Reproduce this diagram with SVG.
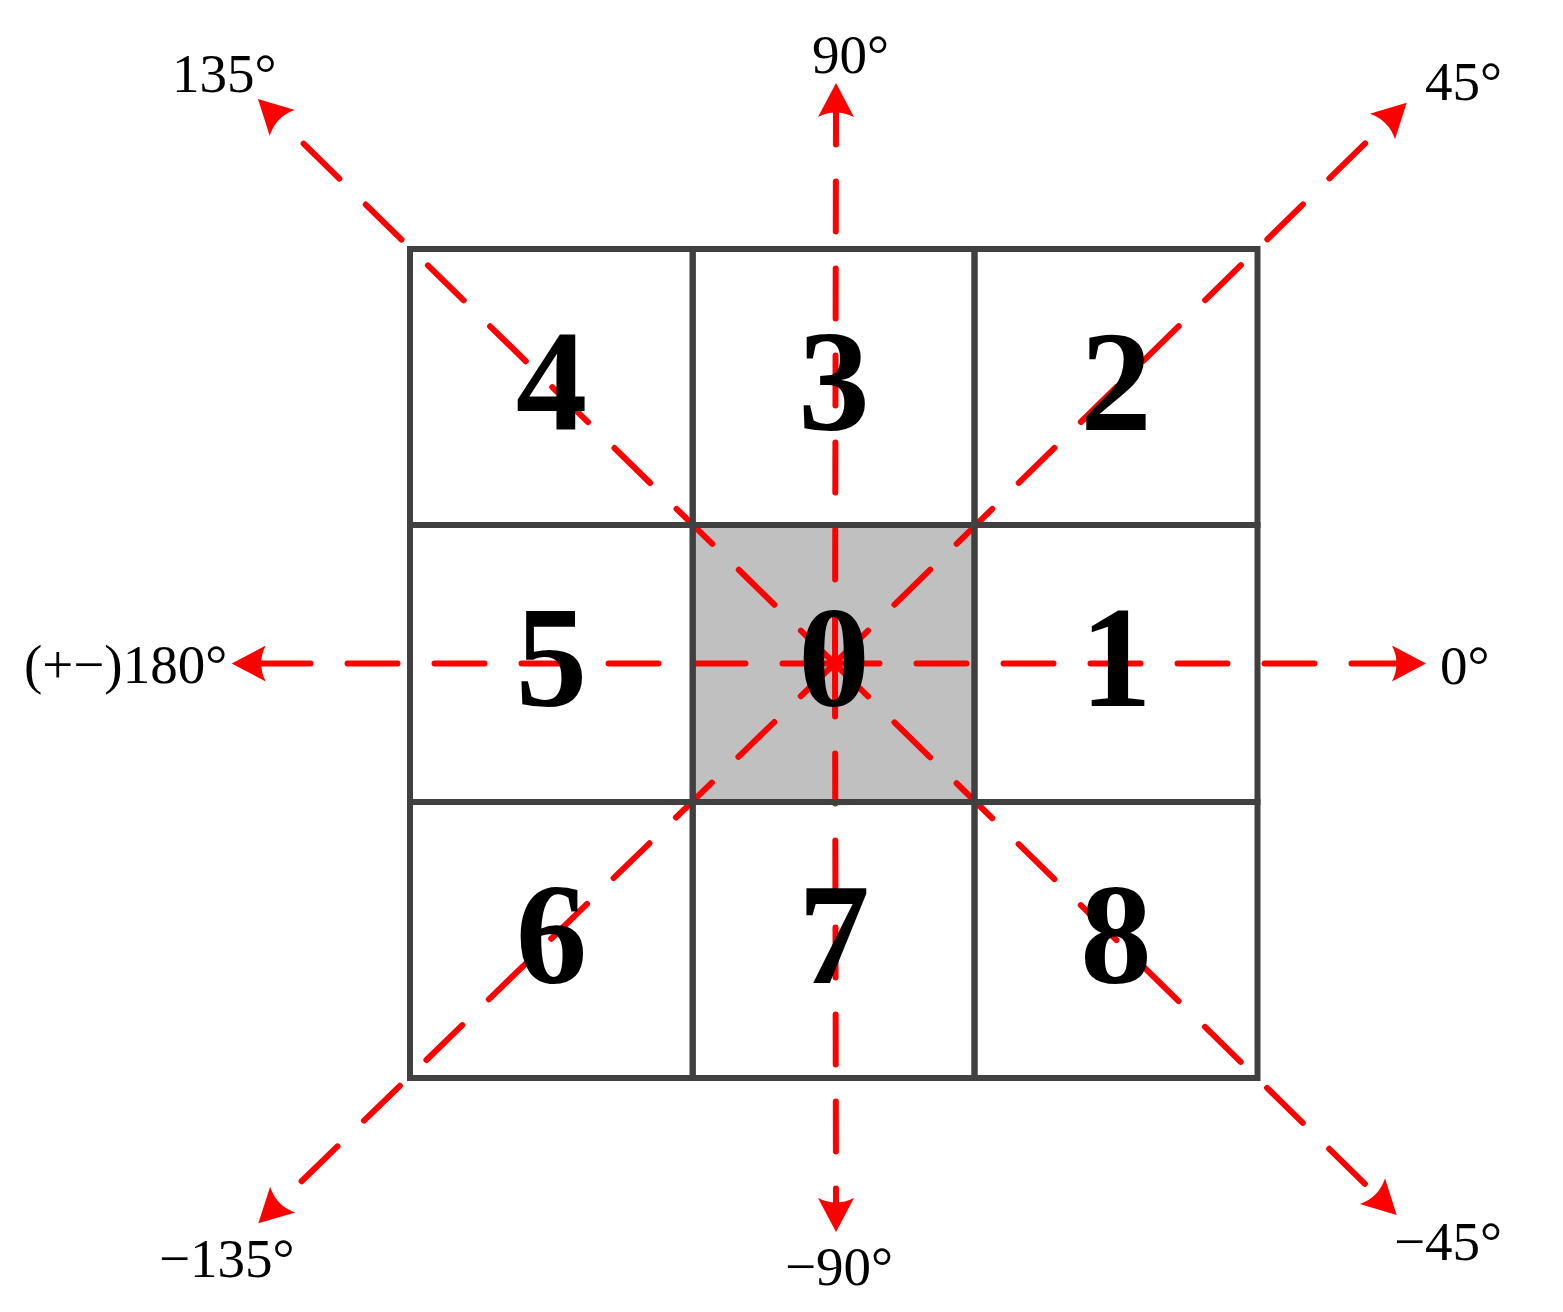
<svg xmlns="http://www.w3.org/2000/svg" width="1563" height="1312" viewBox="0 0 1563 1312">
<style>
.cell{fill:none;stroke:#404040;stroke-width:6}
.digit{font-family:"Liberation Serif","Times New Roman",serif;font-weight:bold;font-size:143px;fill:#000;text-anchor:middle}
.lbl{font-family:"Liberation Serif","Times New Roman",serif;font-size:55px;fill:#000}
.ray{stroke:#ff0000;stroke-width:6;stroke-linecap:round;fill:none;stroke-dasharray:50 37;marker-end:url(#arr)}
</style>
<defs>
<marker id="arr" viewBox="0 -20 36 40" refX="6" refY="0" markerWidth="36" markerHeight="40" markerUnits="userSpaceOnUse" orient="auto">
<path d="M0,-18 L34,0 L0,18 Q9,0 0,-18 Z" fill="#ff0000"/>
</marker>
</defs>
<rect x="0" y="0" width="1563" height="1312" fill="#ffffff"/>
<g id="backgrounds">
<rect x="692.7" y="525" width="281.8" height="277" fill="#c0c0c0"/>
</g>
<g id="connectors">
<line class="ray" x1="834.5" y1="663.5" x2="1398" y2="663.5" stroke-dashoffset="5"/>
<line class="ray" x1="834.5" y1="663.5" x2="259.7" y2="663.5" stroke-dashoffset="-2"/>
<line class="ray" x1="835" y1="663.5" x2="836" y2="111" stroke-dashoffset="3"/>
<line class="ray" x1="835" y1="663.5" x2="836" y2="1204" stroke-dashoffset="-3"/>
<line class="ray" x1="834.5" y1="663.5" x2="278" y2="118.6" stroke-dashoffset="3"/>
<line class="ray" x1="834.5" y1="663.5" x2="1386.7" y2="122.3" stroke-dashoffset="3"/>
<line class="ray" x1="834.5" y1="663.5" x2="1376.7" y2="1195.4" stroke-dashoffset="3"/>
<line class="ray" x1="834.5" y1="663.5" x2="278.4" y2="1203.8" stroke-dashoffset="3"/>
</g>
<g id="node-4"><rect class="cell" x="410" y="249" width="282.7" height="276"/><text class="digit" x="551.4" y="430">4</text></g>
<g id="node-3"><rect class="cell" x="692.7" y="249" width="281.8" height="276"/><text class="digit" x="834" y="430">3</text></g>
<g id="node-2"><rect class="cell" x="974.5" y="249" width="283" height="276"/><text class="digit" x="1116" y="430">2</text></g>
<g id="node-5"><rect class="cell" x="410" y="525" width="282.7" height="277"/><text class="digit" x="551.4" y="706">5</text></g>
<g id="node-0"><rect class="cell" x="692.7" y="525" width="281.8" height="277"/><text class="digit" x="834" y="706">0</text></g>
<g id="node-1"><rect class="cell" x="974.5" y="525" width="283" height="277"/><text class="digit" x="1116" y="706">1</text></g>
<g id="node-6"><rect class="cell" x="410" y="802" width="282.7" height="276"/><text class="digit" x="551.4" y="983">6</text></g>
<g id="node-7"><rect class="cell" x="692.7" y="802" width="281.8" height="276"/><text class="digit" x="834" y="983">7</text></g>
<g id="node-8"><rect class="cell" x="974.5" y="802" width="283" height="276"/><text class="digit" x="1116" y="983">8</text></g>
<g id="labels">
<text class="lbl" x="172" y="92">135°</text>
<text class="lbl" x="812" y="73">90°</text>
<text class="lbl" x="1425" y="100">45°</text>
<text class="lbl" x="1440" y="684">0°</text>
<text class="lbl" x="24" y="683">(+−)180°</text>
<text class="lbl" x="1394" y="1260">−45°</text>
<text class="lbl" x="159" y="1277">−135°</text>
<text class="lbl" x="785" y="1285">−90°</text>
</g>
</svg>
